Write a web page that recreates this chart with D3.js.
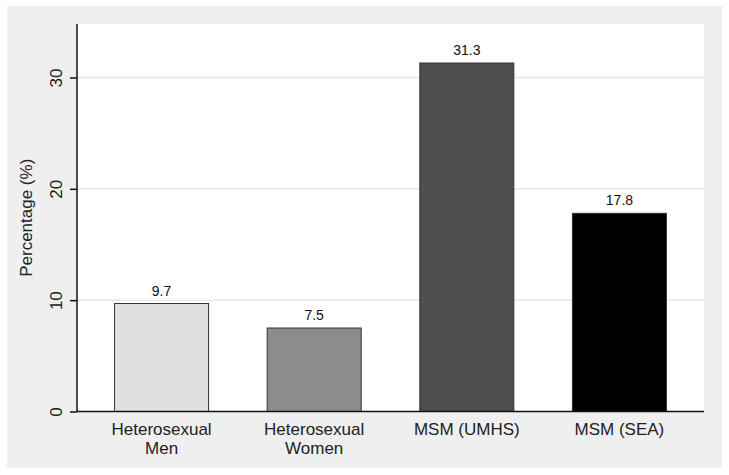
<!DOCTYPE html>
<html><head><meta charset="utf-8">
<script src="https://cdn.jsdelivr.net/npm/d3@7/dist/d3.min.js"></script>
<style>body{margin:0;background:#fff;}svg{display:block;font-family:Arial,"Liberation Sans",sans-serif;}</style>
</head><body>
<script>
const categories = [["Heterosexual","Men"],["Heterosexual","Women"],["MSM (UMHS)"],["MSM (SEA)"]];
const values = [9.7, 7.5, 31.3, 17.8];
const valueLabels = ["9.7","7.5","31.3","17.8"];
const barColors = ["#e0e0e0","#8c8c8c","#4f4f4f","#000000"];
const yTicks = [0, 10, 20, 30];
const yTitle = "Percentage (%)";

const W = 729, H = 475;
const svg = d3.select("body").append("svg").attr("width", W).attr("height", H);

// outer panel
svg.append("rect").attr("x", 7).attr("y", 6).attr("width", 715).attr("height", 462).attr("fill", "#efefef");
const L = 77, R = 704, T = 24, B = 411.5;
svg.append("rect").attr("x", L).attr("y", T).attr("width", R - L).attr("height", B - T).attr("fill", "#fff");

const y = d3.scaleLinear().domain([0, 30]).range([B, 77.5]);
const x = d3.scaleBand().domain(d3.range(categories.length)).range([L, R]).paddingInner(0.384).paddingOuter(0.246);

// grid
svg.append("g").selectAll("line").data(yTicks.filter(d => d > 0)).join("line")
  .attr("x1", L).attr("x2", R).attr("y1", d => y(d)).attr("y2", d => y(d))
  .attr("stroke", "#e6e6e6").attr("stroke-width", 1.5);

// bars
svg.append("g").selectAll("rect").data(values).join("rect")
  .attr("x", (d, i) => x(i)).attr("width", x.bandwidth())
  .attr("y", d => y(d)).attr("height", d => B - y(d))
  .attr("fill", (d, i) => barColors[i]).attr("stroke", "#333").attr("stroke-width", 1);

// value labels
svg.append("g").selectAll("text").data(values).join("text")
  .attr("x", (d, i) => x(i) + x.bandwidth() / 2).attr("y", d => y(d) - 8)
  .attr("text-anchor", "middle").attr("font-size", 14).attr("fill", "#111")
  .text((d, i) => valueLabels[i]);

// y axis
const yAxis = d3.axisLeft(y).tickValues(yTicks).tickSize(7).tickPadding(7);
const ga = svg.append("g").attr("transform", `translate(${L},0)`).call(yAxis);
ga.select(".domain").attr("d", `M0,${T}V${B}`).attr("stroke", "#111").attr("stroke-width", 1.5);
ga.selectAll(".tick line").attr("stroke", "#111").attr("stroke-width", 1.5);
ga.selectAll(".tick text").attr("font-size", 17).attr("fill", "#222")
  .attr("font-family", "Arial, 'Liberation Sans', sans-serif")
  .attr("transform", "rotate(-90)").attr("x", 0).attr("y", -15).attr("dy", 0)
  .attr("text-anchor", "middle")
  .attr("transform", d => `translate(0,0) rotate(-90)`);
// position rotated tick labels properly
ga.selectAll(".tick text").each(function(d) {
  d3.select(this).attr("transform", `translate(-15,0) rotate(-90)`).attr("x", 0).attr("y", 0);
});

// x axis line
svg.append("line").attr("x1", L).attr("x2", R).attr("y1", B).attr("y2", B).attr("stroke", "#111").attr("stroke-width", 1.5);

// x labels
const xl = svg.append("g").selectAll("text").data(categories).join("text")
  .attr("x", (d, i) => x(i) + x.bandwidth() / 2).attr("y", 435)
  .attr("text-anchor", "middle").attr("font-size", 17).attr("fill", "#222");
xl.each(function(lines, i) {
  d3.select(this).selectAll("tspan").data(lines).join("tspan")
    .attr("x", x(i) + x.bandwidth() / 2).attr("dy", (d, j) => j === 0 ? 0 : 18.5).text(d => d);
});

// y title
svg.append("text").attr("transform", `translate(32,${(T + B) / 2}) rotate(-90)`)
  .attr("text-anchor", "middle").attr("font-size", 17).attr("fill", "#222").text(yTitle);
</script>
</body></html>
